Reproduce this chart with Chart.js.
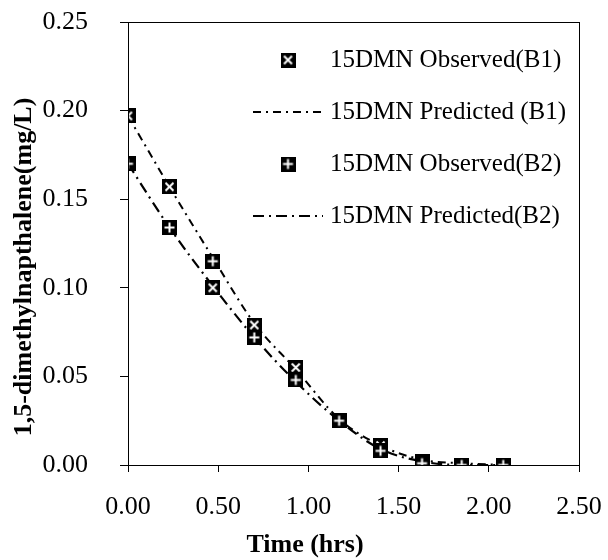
<!DOCTYPE html>
<html>
<head>
<meta charset="utf-8">
<script src="https://cdn.jsdelivr.net/npm/chart.js@4.4.0/dist/chart.umd.min.js"></script>
<style>
  html, body { margin: 0; padding: 0; background: #fff; }
</style>
</head>
<body>
<canvas id="chart" width="608" height="560"></canvas>
<script>
// time in hours
const TIMES = [0.00, 0.23, 0.47, 0.70, 0.93, 1.17, 1.40, 1.63, 1.85, 2.08];
const B1_OBSERVED = [0.197, 0.157, 0.100, 0.079, 0.055, 0.025, 0.011, 0.002, 0.000, 0.000];
const B1_PREDICTED = [0.197, 0.157, 0.117, 0.080, 0.054, 0.026, 0.011, 0.003, 0.001, 0.000];
const B2_OBSERVED = [0.170, 0.134, 0.115, 0.072, 0.048, 0.025, 0.008, 0.001, 0.000, 0.000];
const B2_PREDICTED = [0.170, 0.134, 0.101, 0.072, 0.047, 0.025, 0.009, 0.002, 0.000, 0.000];

const LABELS = ['15DMN Observed(B1)', '15DMN Predicted (B1)', '15DMN Observed(B2)', '15DMN Predicted(B2)'];
const X_TITLE = 'Time (hrs)';
const Y_TITLE = '1,5-dimethylnapthalene(mg/L)';

const SERIF = '"Liberation Serif", "Times New Roman", serif';

function makeMarker(kind) {
  const c = document.createElement('canvas');
  c.width = 15; c.height = 15;
  const g = c.getContext('2d');
  g.fillStyle = '#000';
  g.fillRect(0, 0, 15, 15);
  g.strokeStyle = '#fff';
  g.lineWidth = 2;
  g.beginPath();
  if (kind === 'x') {
    g.moveTo(3.5, 3.5); g.lineTo(11.5, 11.5);
    g.moveTo(11.5, 3.5); g.lineTo(3.5, 11.5);
  } else {
    g.moveTo(7.5, 2.5); g.lineTo(7.5, 12.5);
    g.moveTo(2.5, 7.5); g.lineTo(12.5, 7.5);
  }
  g.stroke();
  return c;
}

const markX = makeMarker('x');
const markPlus = makeMarker('plus');

const pts = vals => TIMES.map((t, i) => ({ x: t, y: vals[i] }));

// frame, axis titles and in-plot legend
const decorations = {
  id: 'decorations',
  afterDraw(chart) {
    const { ctx, chartArea: a } = chart;
    ctx.save();
    ctx.strokeStyle = '#000';
    ctx.lineWidth = 1;
    ctx.strokeRect(a.left + 0.5, a.top + 0.5, a.right - a.left, a.bottom - a.top);

    ctx.fillStyle = '#000';
    ctx.font = 'bold 26px ' + SERIF;
    ctx.textAlign = 'center';
    ctx.textBaseline = 'middle';
    ctx.fillText(X_TITLE, 305, 545);
    ctx.save();
    ctx.translate(24, 267);
    ctx.rotate(-Math.PI / 2);
    ctx.fillText(Y_TITLE, 0, 0);
    ctx.restore();

    // legend
    const rows = [60, 112, 164, 216];
    ctx.font = '25px ' + SERIF;
    ctx.textAlign = 'left';
    chart.data.datasets.forEach((ds, i) => {
      const y = rows[i];
      if (ds.showLine === false) {
        ctx.drawImage(ds.pointStyle, 288 - 7.5, y - 7.5);
      } else {
        ctx.save();
        ctx.strokeStyle = ds.borderColor;
        ctx.lineWidth = ds.borderWidth;
        ctx.setLineDash(ds.borderDash);
        ctx.beginPath();
        ctx.moveTo(253, y);
        ctx.lineTo(323, y);
        ctx.stroke();
        ctx.restore();
      }
      ctx.fillText(ds.label, 330, y);
    });
    ctx.restore();
  }
};

new Chart(document.getElementById('chart'), {
  type: 'scatter',
  data: {
    datasets: [
      {
        label: LABELS[0], data: pts(B1_OBSERVED), showLine: false,
        pointStyle: markX, pointRadius: 7, order: 1
      },
      {
        label: LABELS[1], data: pts(B1_PREDICTED), showLine: true,
        borderColor: '#000', borderWidth: 2, borderDash: [8, 5, 2, 5],
        pointRadius: 0, cubicInterpolationMode: 'monotone', order: 3
      },
      {
        label: LABELS[2], data: pts(B2_OBSERVED), showLine: false,
        pointStyle: markPlus, pointRadius: 7, order: 0
      },
      {
        label: LABELS[3], data: pts(B2_PREDICTED), showLine: true,
        borderColor: '#000', borderWidth: 2.2, borderDash: [11, 5, 2, 5],
        pointRadius: 0, cubicInterpolationMode: 'monotone', order: 2
      }
    ]
  },
  options: {
    responsive: false,
    animation: false,
    devicePixelRatio: 1,
    layout: { padding: { top: 22, right: 29, left: 0, bottom: 0 } },
    plugins: {
      legend: { display: false },
      tooltip: { enabled: false }
    },
    scales: {
      x: {
        type: 'linear',
        min: 0, max: 2.5,
        afterFit: s => { s.height = 95; s.paddingLeft = 0; s.paddingRight = 0; },
        ticks: {
          stepSize: 0.5,
          color: '#000',
          padding: 20,
          font: { family: SERIF, size: 26 },
          callback: v => v.toFixed(2)
        },
        grid: { drawOnChartArea: false, drawTicks: true, tickLength: 7, color: '#000' },
        border: { color: '#000', width: 1 }
      },
      y: {
        min: 0, max: 0.25,
        afterFit: s => { s.width = 128; s.paddingTop = 0; s.paddingBottom = 0; },
        ticks: {
          stepSize: 0.05,
          color: '#000',
          padding: 32,
          font: { family: SERIF, size: 26 },
          callback: v => v.toFixed(2)
        },
        grid: { drawOnChartArea: false, drawTicks: true, tickLength: 8, color: '#000' },
        border: { color: '#000', width: 1 }
      }
    }
  },
  plugins: [decorations]
});
</script>
</body>
</html>
